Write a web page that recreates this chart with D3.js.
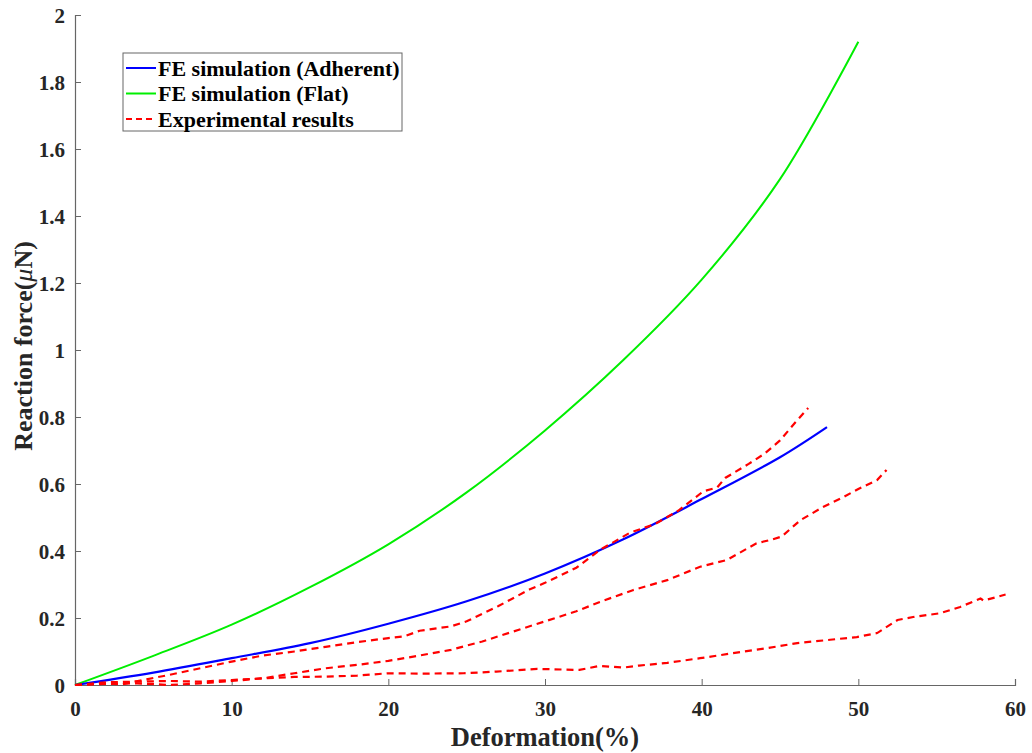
<!DOCTYPE html>
<html><head><meta charset="utf-8">
<script src="https://cdn.jsdelivr.net/npm/d3@7"></script>
<style>body{margin:0;background:#fff}svg{display:block}text{font-family:"Liberation Serif","Times New Roman",serif;font-weight:bold}</style>
</head><body>
<svg id="c" width="1032" height="753"></svg>
<script>
const xTicks = [0,10,20,30,40,50,60];
const yTicks = [0,0.2,0.4,0.6,0.8,1,1.2,1.4,1.6,1.8,2];
const seriesNames = ["FE simulation (Adherent)","FE simulation (Flat)","Experimental results"];
const adherent = [[0,0],[5,0.037],[10,0.08],[15,0.125],[20,0.183],[25,0.25],[30,0.333],[35,0.435],[40,0.555],[45,0.68],[48,0.77]];
const flat = [[0,0],[5,0.087],[10,0.18],[15,0.292],[20,0.42],[25,0.575],[30,0.76],[35,0.97],[40,1.21],[45,1.51],[50,1.92]];
const expA = [[0,0],[2,0.005],[3,0.002],[4,0.012],[6,0.03],[8,0.05],[10,0.07],[12,0.088],[14,0.1],[16,0.114],[18,0.128],[20,0.14],[21,0.145],[22,0.162],[24,0.175],[25,0.19],[27,0.235],[29,0.285],[30,0.305],[32,0.35],[33.5,0.403],[35.4,0.454],[37,0.48],[38.5,0.52],[40.1,0.578],[41,0.59],[41.5,0.618],[43,0.66],[44,0.69],[45,0.73],[46,0.785],[46.8,0.827]];
const expB = [[0,0],[2,0.003],[4,0.005],[6,0.0],[8,0.005],[10,0.012],[12,0.02],[14,0.035],[16,0.05],[18,0.06],[20,0.072],[22,0.088],[24,0.105],[26,0.13],[28,0.16],[30,0.19],[32,0.22],[33.5,0.248],[35.6,0.283],[37.8,0.313],[39.9,0.353],[41.6,0.373],[43.5,0.423],[44.4,0.433],[45.1,0.443],[46.3,0.492],[47.7,0.53],[49,0.56],[50,0.585],[51.2,0.612],[51.8,0.642]];
const expC = [[0,0],[2,0.008],[4,0.01],[6,0.012],[8,0.01],[10,0.015],[12,0.02],[14,0.024],[16,0.025],[18,0.028],[20,0.035],[22,0.034],[24.8,0.035],[26.9,0.04],[29.5,0.048],[32.2,0.045],[33.5,0.057],[35,0.052],[36,0.058],[37.8,0.066],[39.9,0.08],[42,0.095],[44.2,0.11],[46.1,0.125],[48.2,0.135],[49.9,0.143],[51.2,0.155],[52.5,0.194],[53.5,0.203],[55.2,0.214],[56.5,0.233],[57.8,0.258],[58,0.252],[59.4,0.27]];
const colors = ["#0000ff","#00ee00","#ff0000"];

const svg = d3.select("#c");
const x = d3.scaleLinear().domain([0,60]).range([75,1015]);
const y = d3.scaleLinear().domain([0,2]).range([685,15]);

const xAxis = svg.append("g").attr("transform","translate(0,685)")
  .call(d3.axisBottom(x).tickValues(xTicks).tickSize(-6).tickPadding(12).tickFormat(d3.format("d")));
const yAxis = svg.append("g").attr("transform","translate(75,0)")
  .call(d3.axisLeft(y).tickValues(yTicks).tickSize(-6).tickPadding(10).tickFormat(d=>d3.format("~g")(d)));
[xAxis,yAxis].forEach(a=>{
  a.select(".domain").attr("stroke","#666").attr("stroke-width",1.2);
  a.selectAll(".tick line").attr("stroke","#666");
  a.selectAll(".tick text").attr("fill","#262626").style("font-size","21px").style("font-family","'Liberation Serif',serif").style("font-weight","bold");
});
xAxis.selectAll(".tick text").attr("dy","0.9em");
yAxis.selectAll(".tick text").attr("dy","0.35em");

const line = d3.line().x(d=>x(d[0])).y(d=>y(d[1]));
const smooth = d3.line().x(d=>x(d[0])).y(d=>y(d[1])).curve(d3.curveCatmullRom.alpha(0.5));

svg.append("path").datum(flat).attr("d",smooth).attr("fill","none").attr("stroke",colors[1]).attr("stroke-width",2);
svg.append("path").datum(adherent).attr("d",smooth).attr("fill","none").attr("stroke",colors[0]).attr("stroke-width",2.2);
[expA,expB,expC].forEach(s=>{
  svg.append("path").datum(s).attr("d",line).attr("fill","none").attr("stroke",colors[2]).attr("stroke-width",2.2).attr("stroke-dasharray","7,5");
});

// Axis titles
svg.append("text").attr("x",545).attr("y",746).attr("text-anchor","middle").attr("fill","#262626").style("font-size","26.5px").text("Deformation(%)");
const yt = svg.append("text").attr("transform","translate(32,346) rotate(-90)").attr("text-anchor","middle").attr("fill","#262626").style("font-size","26px");
yt.append("tspan").text("Reaction force(");
yt.append("tspan").style("font-style","italic").style("font-weight","normal").text("μ");
yt.append("tspan").text("N)");

// Legend
const lg = svg.append("g");
lg.append("rect").attr("x",123).attr("y",53).attr("width",279).attr("height",78).attr("fill","#fff").attr("stroke","#666").attr("stroke-width",1);
seriesNames.forEach((n,i)=>{
  const yy = 68 + i*25.5;
  lg.append("line").attr("x1",126).attr("x2",156).attr("y1",yy).attr("y2",yy).attr("stroke",colors[i]).attr("stroke-width",2)
    .attr("stroke-dasharray", i===2 ? "6,4" : null);
  lg.append("text").attr("x",158).attr("y",yy).attr("dy","0.35em").attr("fill","#000").style("font-size","22px").text(n);
});
</script>
</body></html>
